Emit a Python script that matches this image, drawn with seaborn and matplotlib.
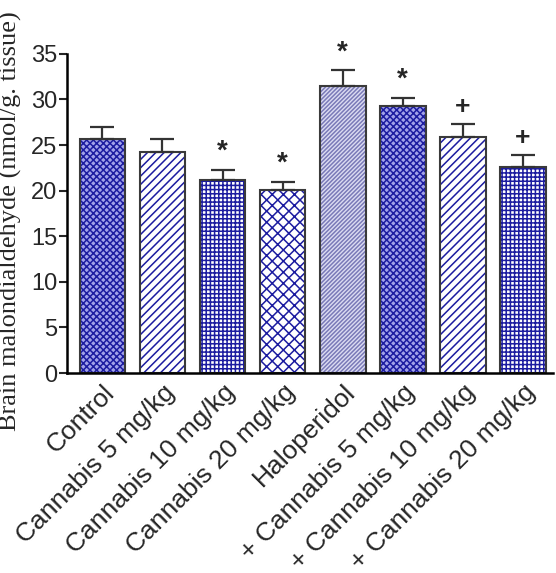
import numpy as np
import pandas as pd
import matplotlib
matplotlib.use("Agg")
import matplotlib.pyplot as plt
import seaborn as sns

# values
groups = ["Control", "Cannabis 5 mg/kg", "Cannabis 10 mg/kg", "Cannabis 20 mg/kg",
          "Haloperidol", "+ Cannabis 5 mg/kg", "+ Cannabis 10 mg/kg", "+ Cannabis 20 mg/kg"]
mda = [25.7, 24.2, 21.2, 20.1, 31.5, 29.3, 25.9, 22.6]
sem = [1.3, 1.5, 1.1, 0.9, 1.7, 0.9, 1.4, 1.3]
marks = ["", "", "*", "*", "*", "*", "+", "+"]
yticks = [0, 5, 10, 15, 20, 25, 30, 35]

hatches = ["xxxxx", "////", "++++", "xxx", "////////", "xxxxx", "////", "++++"]
faces = ["#a2a2ea", "white", "white", "white", "#dcdcf2", "#a2a2ea", "white", "white"]
hatch_cols = ["#1c1ca0", "#1c1ca0", "#1c1ca0", "#1c1ca0", "#7a7ab8", "#1c1ca0", "#1c1ca0", "#1c1ca0"]

df = pd.DataFrame({"group": groups, "mda": mda})

sns.set_style("ticks")
plt.rcParams["font.family"] = ["Liberation Sans", "DejaVu Sans"]
plt.rcParams["hatch.linewidth"] = 1.1

fig = plt.figure(figsize=(5.56, 5.73), dpi=100)
ax = fig.add_axes([0.1205, 0.349, 0.875, 0.557])

# hatched fill
sns.barplot(data=df, x="group", y="mda", order=groups, width=0.76,
            errorbar=None, ax=ax, linewidth=0)
for p, h, fc, hc in zip(ax.patches, hatches, faces, hatch_cols):
    p.set_facecolor(fc)
    p.set_edgecolor(hc)
    p.set_hatch(h)
    p.set_linewidth(0)

# outlines
sns.barplot(data=df, x="group", y="mda", order=groups, width=0.76,
            errorbar=None, ax=ax, fill=False, color="#3a3a3a", linewidth=1.5)

x = np.arange(len(groups))
ax.errorbar(x, mda, yerr=[np.zeros(len(sem)), sem], fmt="none", ecolor="#333333",
            elinewidth=1.6, capsize=8.5, capthick=1.6, zorder=1)

for xi, m, s, mk in zip(x, mda, sem, marks):
    if mk == "*":
        ax.text(xi, m + s + 0.5, "*", ha="center", va="bottom", fontsize=20,
                fontweight="bold", clip_on=False)
    elif mk == "+":
        ax.text(xi, m + s + 0.6, "+", ha="center", va="bottom", fontsize=19,
                fontweight="bold", clip_on=False)

ax.set_xlim(-0.59, 7.51)
ax.set_ylim(0, 35)
ax.set_yticks(yticks)
ax.set_xticks(x)
ax.set_xticklabels(groups, rotation=45, ha="right", rotation_mode="anchor",
                   fontsize=19)
ax.tick_params(axis="x", length=0, pad=5)
ax.tick_params(axis="y", labelsize=17, length=6, width=1.5, pad=1)
ax.set_xlabel("")
ax.set_ylabel("Brain malondialdehyde (nmol/g. tissue)", family="Liberation Serif",
              fontsize=19)
ax.yaxis.set_label_coords(-0.092, 0.475)
sns.despine(ax=ax)
for s in ["left", "bottom"]:
    ax.spines[s].set_linewidth(1.8)
    ax.spines[s].set_color("black")

fig.savefig("out.png", dpi=100)
